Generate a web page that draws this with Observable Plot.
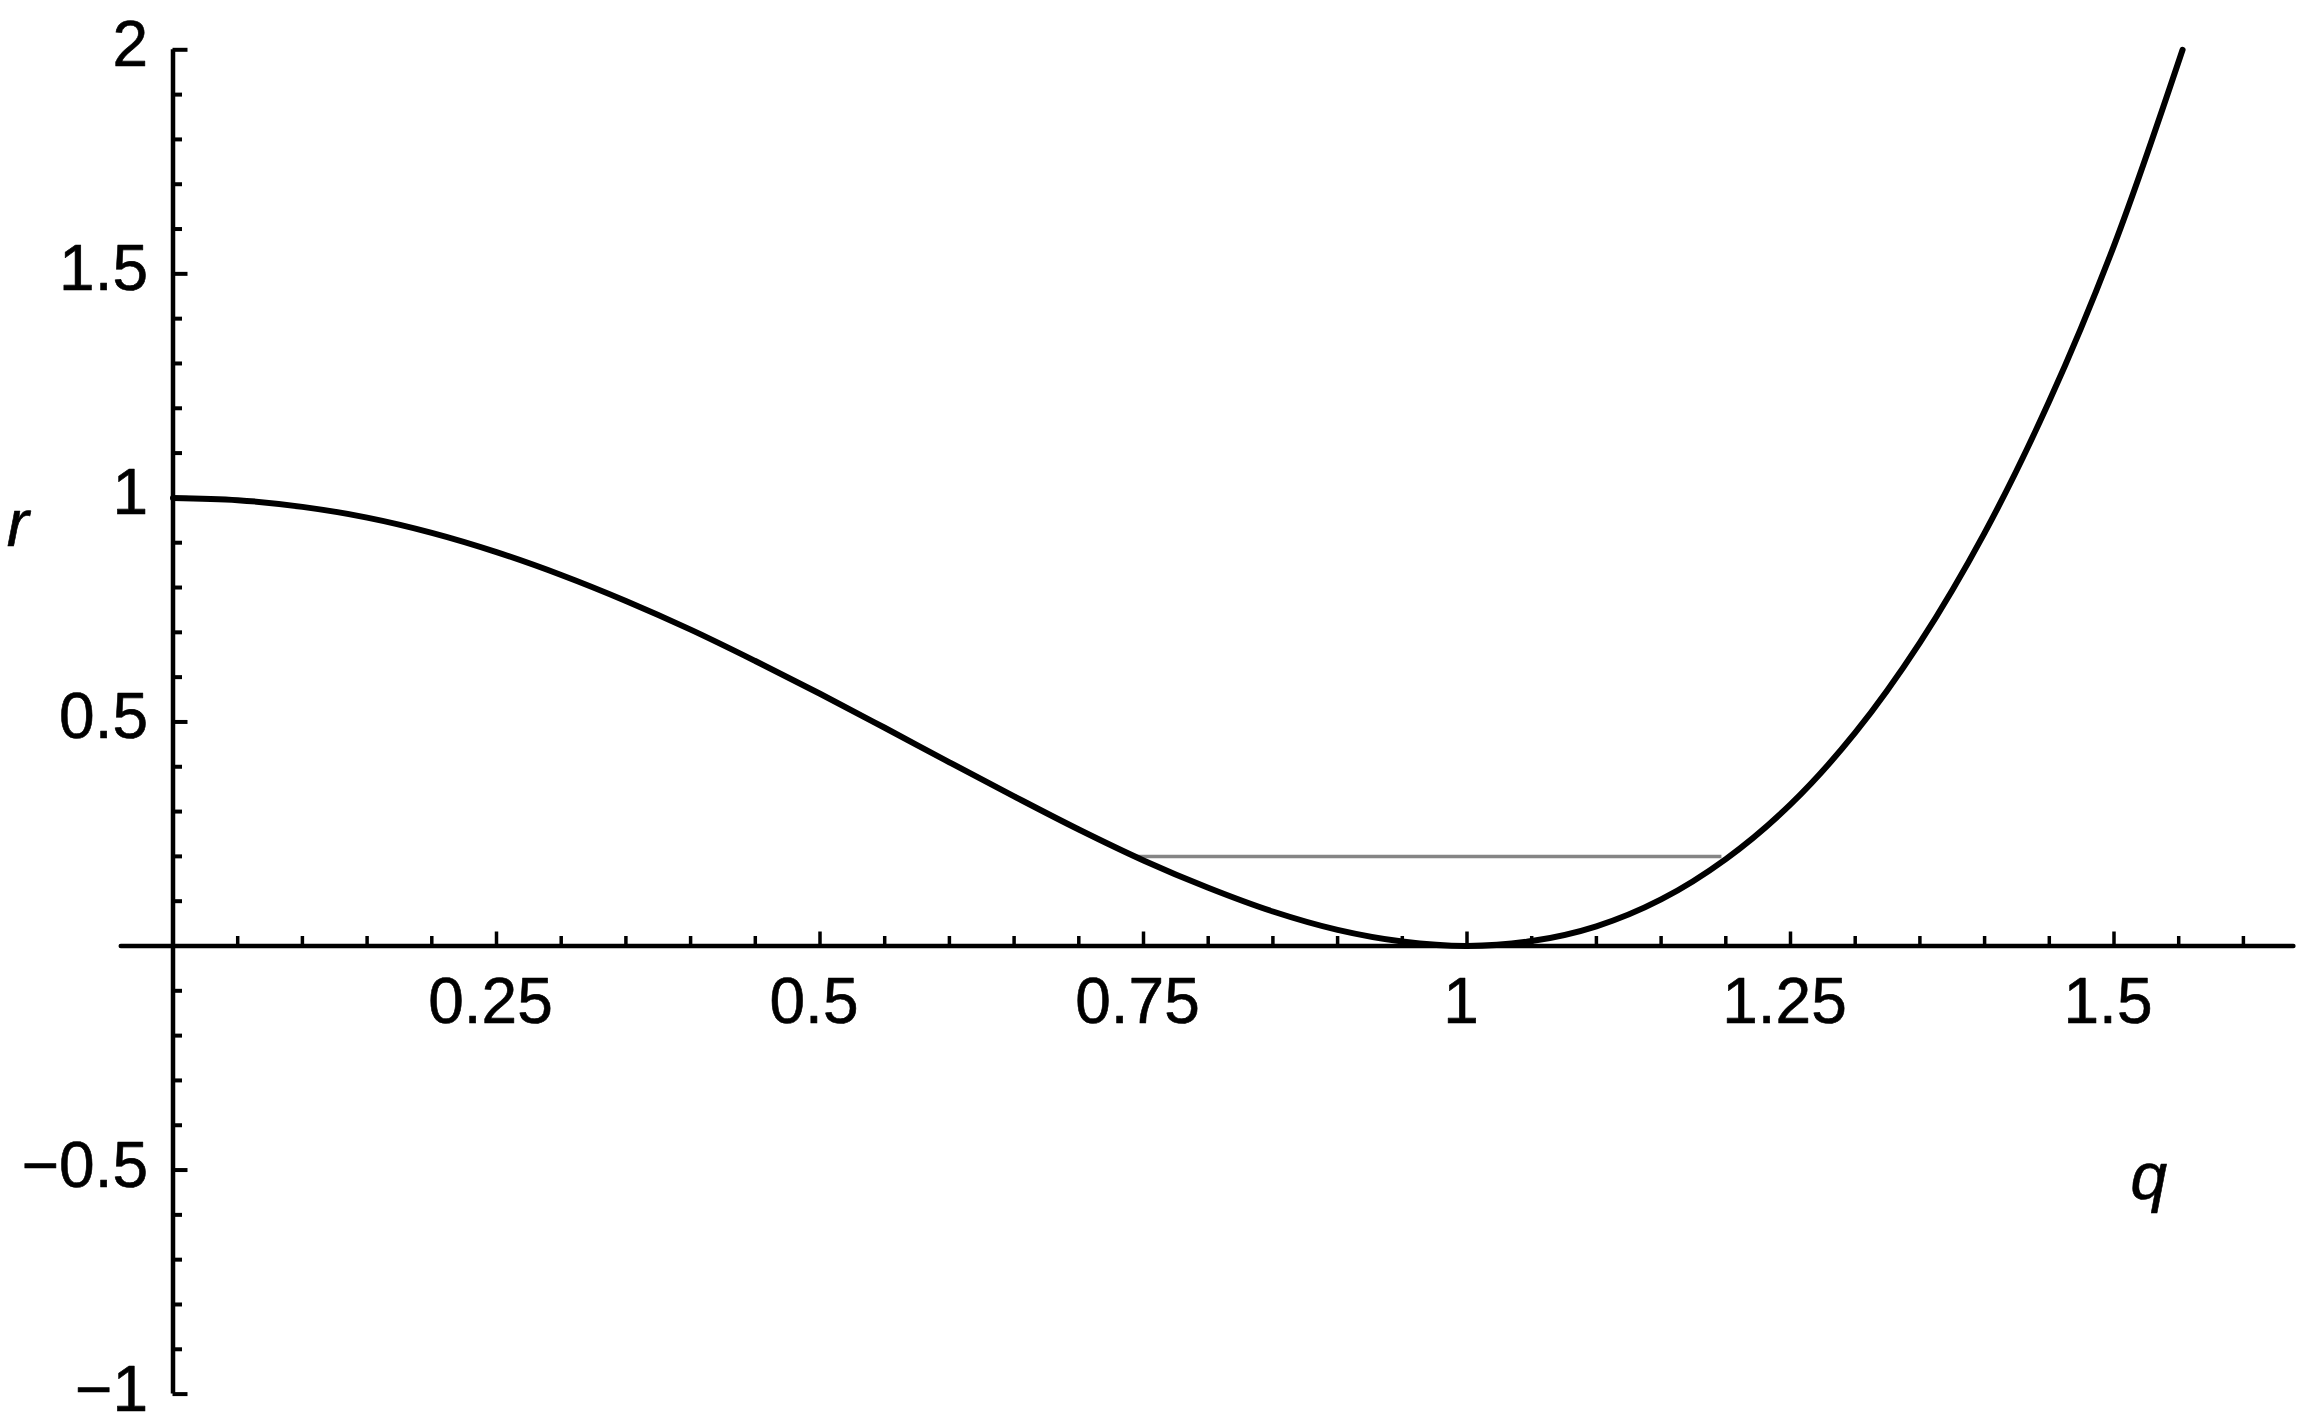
<!DOCTYPE html>
<html>
<head>
<meta charset="utf-8">
<script src="https://cdn.jsdelivr.net/npm/d3@7"></script>
<script src="https://cdn.jsdelivr.net/npm/@observablehq/plot@0.6"></script>
<style>
  html, body { margin: 0; padding: 0; background: #fff; }
  #chart svg { display: block; }
</style>
</head>
<body>
<div id="chart"></div>
<script>
// ---- data ----
const qValues = [0, 0.05, 0.1, 0.15, 0.2, 0.25, 0.3, 0.35, 0.4, 0.45, 0.5, 0.55, 0.6, 0.65, 0.7, 0.75,
                 0.8, 0.85, 0.9, 0.95, 1.0, 1.05, 1.1, 1.15, 1.2, 1.25, 1.3, 1.35, 1.4, 1.45, 1.5, 1.553];
const rValues = [1.000, 0.995, 0.980, 0.956, 0.922, 0.879, 0.828, 0.770, 0.706, 0.636, 0.563, 0.487,
                 0.410, 0.334, 0.260, 0.191, 0.130, 0.077, 0.036, 0.010, 0.000, 0.011, 0.044, 0.104,
                 0.194, 0.316, 0.476, 0.677, 0.922, 1.216, 1.563, 2.000];

// horizontal level segment
const levelR = [0.2];
const levelQ = [0.745, 1.197];

// axes
const xAxisExtent = [-0.04, 1.639];
const yAxisExtent = [-1, 2];
const xMajorTicks = [0.25, 0.5, 0.75, 1, 1.25, 1.5];
const xTickLabels = ["0.25", "0.5", "0.75", "1", "1.25", "1.5"];
const xMinorTicks = [0.05, 0.1, 0.15, 0.2, 0.3, 0.35, 0.4, 0.45, 0.55, 0.6, 0.65, 0.7, 0.8, 0.85, 0.9, 0.95,
                     1.05, 1.1, 1.15, 1.2, 1.3, 1.35, 1.4, 1.45, 1.55, 1.6];
const yMajorTicks = [-1, -0.5, 0.5, 1, 1.5, 2];
const yTickLabels = ["\u22121", "\u22120.5", "0.5", "1", "1.5", "2"];
const yMinorTicks = [-0.9, -0.8, -0.7, -0.6, -0.4, -0.3, -0.2, -0.1, 0.1, 0.2, 0.3, 0.4,
                     0.6, 0.7, 0.8, 0.9, 1.1, 1.2, 1.3, 1.4, 1.6, 1.7, 1.8, 1.9];

// axis titles
const axisTitles = ["r", "q"];
const axisTitleQ = [-0.12, 1.527];
const axisTitleR = [0.939, -0.517];

// ---- tables built from the arrays ----
const curve = qValues.map((q, i) => ({q, r: rValues[i]}));
const xLabelTable = xMajorTicks.map((v, i) => ({v, label: xTickLabels[i]}));
const yLabelTable = yMajorTicks.map((v, i) => ({v, label: yTickLabels[i]}));
const titleTable = axisTitles.map((t, i) => ({t, q: axisTitleQ[i], r: axisTitleR[i]}));

const FONT = "'Liberation Sans', Arial, Helvetica, sans-serif";

const chart = Plot.plot({
  width: 2300,
  height: 1425,
  marginTop: 0, marginRight: 0, marginBottom: 0, marginLeft: 0,
  style: {background: "#fff"},
  x: {domain: [0, 1], range: [172.5, 1466.5], axis: null},
  y: {domain: [0, 1], range: [945.5, 497.4], axis: null},
  marks: [
    // level segment
    Plot.ruleY(levelR, {y: d => d, x1: levelQ[0], x2: levelQ[1], stroke: "#858585", strokeWidth: 3.5}),
    // axis lines
    Plot.ruleY([0], {x1: xAxisExtent[0], x2: xAxisExtent[1], stroke: "#000", strokeWidth: 4.5, strokeLinecap: "round"}),
    Plot.ruleX([0], {y1: yAxisExtent[0], y2: yAxisExtent[1], stroke: "#000", strokeWidth: 4.5}),
    // x ticks (pointing up)
    Plot.ruleX(xMajorTicks, {x: d => d, y1: 0, y2: 0, insetBottom: 14, stroke: "#000", strokeWidth: 3.5}),
    Plot.ruleX(xMinorTicks, {x: d => d, y1: 0, y2: 0, insetBottom: 9.5, stroke: "#000", strokeWidth: 3.5}),
    // y ticks (pointing right)
    Plot.ruleY(yMajorTicks, {y: d => d, x1: 0, x2: 0, insetRight: -15, stroke: "#000", strokeWidth: 4}),
    Plot.ruleY(yMinorTicks, {y: d => d, x1: 0, x2: 0, insetRight: -9.5, stroke: "#000", strokeWidth: 4}),
    // tick labels
    Plot.text(xLabelTable, {x: "v", y: 0, text: "label", lineAnchor: "top", dy: 32, dx: -6,
      fontSize: 64, fontFamily: FONT, fill: "#000", stroke: "#000", strokeWidth: 0.6}),
    Plot.text(yLabelTable, {x: 0, y: "v", text: "label", textAnchor: "end", dx: -25, dy: -4,
      fontSize: 64, fontFamily: FONT, fill: "#000", stroke: "#000", strokeWidth: 0.6}),
    // axis titles
    Plot.text(titleTable, {x: "q", y: "r", text: "t", fontSize: 66, fontStyle: "italic",
      fontFamily: FONT, fill: "#000", stroke: "#000", strokeWidth: 0.6}),
    // curve
    Plot.line(curve, {x: "q", y: "r", curve: "catmull-rom", stroke: "#000", strokeWidth: 6,
      strokeLinecap: "round", strokeLinejoin: "round"})
  ]
});

document.getElementById("chart").appendChild(chart);
</script>
</body>
</html>
